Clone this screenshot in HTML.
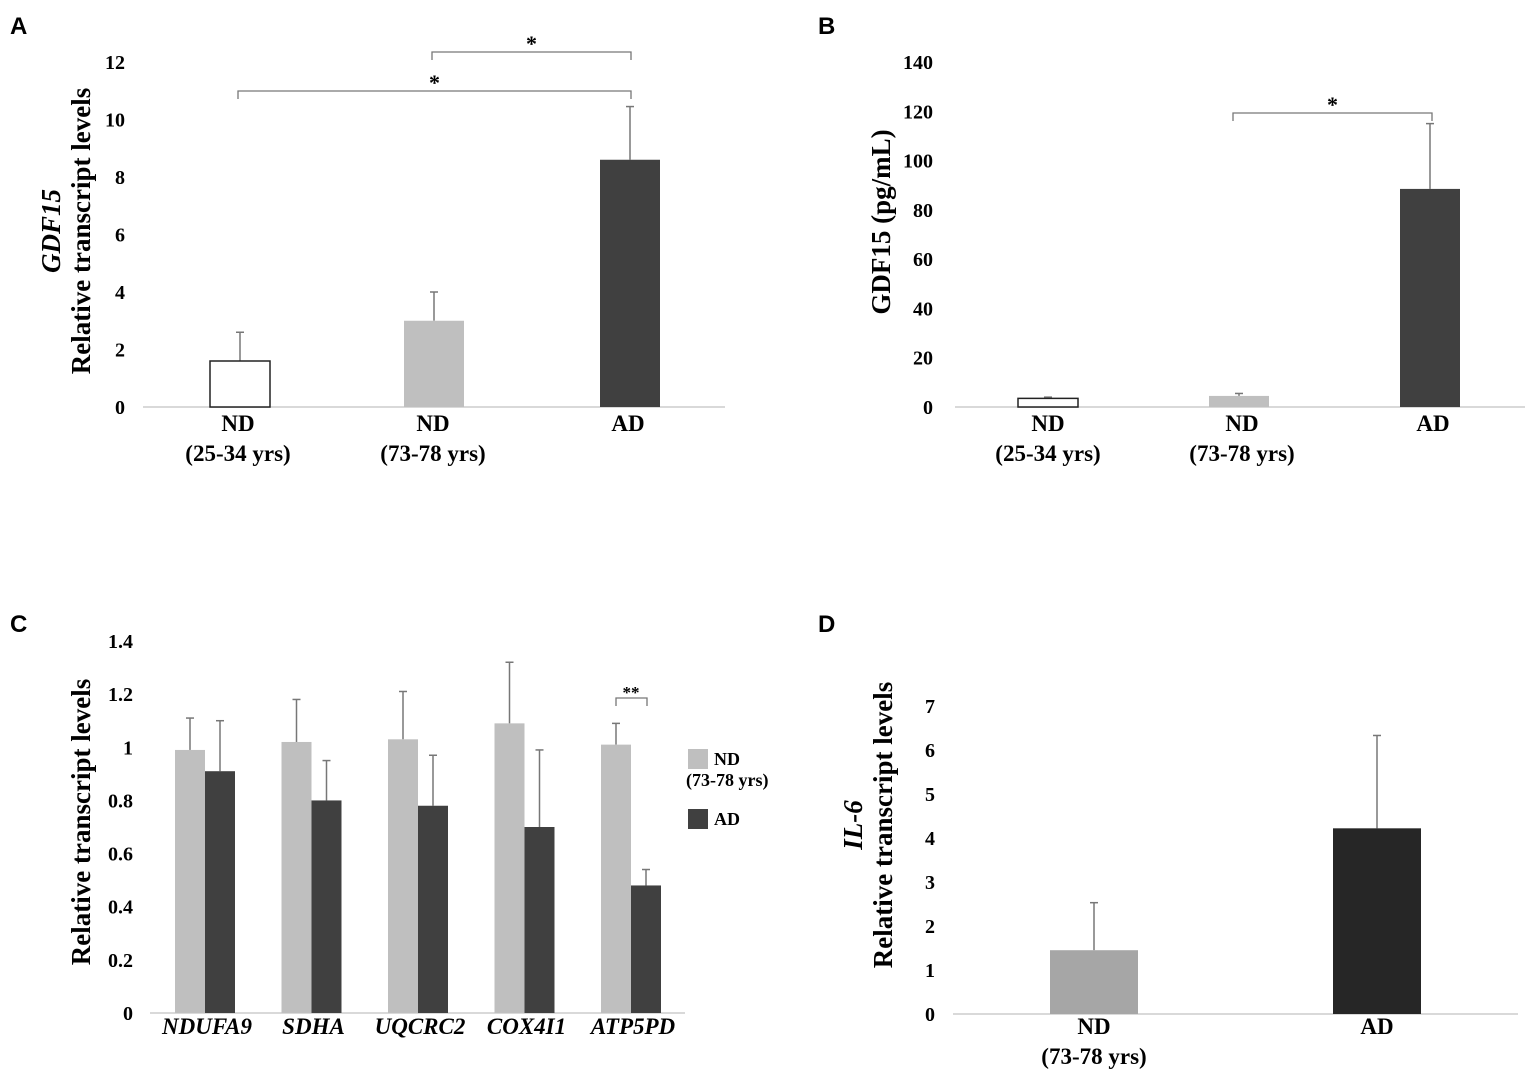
<!DOCTYPE html>
<html><head><meta charset="utf-8"><style>
body{margin:0;background:#fff;}
svg{display:block;font-family:"Liberation Serif",serif;}
.pl{font-family:"Liberation Sans",sans-serif;font-weight:bold;font-size:24px;}
.tk{font-size:20px;font-weight:bold;}
.cat{font-size:23px;font-weight:bold;}
.yt{font-size:27px;font-weight:bold;}
</style></head><body>
<svg id="s" width="1535" height="1073">
<text class="pl" x="10" y="34">A</text>
<text class="pl" x="818" y="34">B</text>
<text class="pl" x="10" y="632">C</text>
<text class="pl" x="818" y="632">D</text>
</svg>
<script>
// Panel A
const aCats=[["ND","(25-34 yrs)"],["ND","(73-78 yrs)"],["AD",""]];
const aVals=[1.6,3.0,8.6];
const aErr=[2.6,4.0,10.45];
const aTicks=[0,2,4,6,8,10,12];
// Panel B
const bCats=[["ND","(25-34 yrs)"],["ND","(73-78 yrs)"],["AD",""]];
const bVals=[3.5,4.5,88.5];
const bErr=[4,5.5,115];
const bTicks=[0,20,40,60,80,100,120,140];
// Panel C
const cGenes=["NDUFA9","SDHA","UQCRC2","COX4I1","ATP5PD"];
const cND=[0.99,1.02,1.03,1.09,1.01];
const cNDErr=[1.11,1.18,1.21,1.32,1.09];
const cAD=[0.91,0.80,0.78,0.70,0.48];
const cADErr=[1.10,0.95,0.97,0.99,0.54];
const cTicks=[0,0.2,0.4,0.6,0.8,1,1.2,1.4];
// Panel D
const dCats=[["ND","(73-78 yrs)"],["AD",""]];
const dVals=[1.45,4.22];
const dErr=[2.53,6.33];
const dTicks=[0,1,2,3,4,5,6,7];

const svg=document.getElementById('s');
const NS='http://www.w3.org/2000/svg';
function mk(tag,attrs,name,txt){const e=document.createElementNS(NS,tag);for(const k in attrs)e.setAttribute(k,attrs[k]);


if(txt!==undefined)e.textContent=txt;svg.appendChild(e);return e;}
function scale(y0,yTop,max){return v=>y0-(y0-yTop)*v/max;}
function axis(p,y,ticks,x0,x1,tx){
  mk('line',{x1:x0,x2:x1,y1:y(0),y2:y(0),stroke:'#d9d9d9','stroke-width':2},p+'-x-axis');
  ticks.forEach(t=>mk('text',{x:tx,y:y(t)+7,'text-anchor':'end',class:'tk'},p+'-y-tick',String(t)));
}
function errbar(p,x,y0,y1){
  mk('line',{x1:x,x2:x,y1:y0,y2:y1,stroke:'#777','stroke-width':1.5},p+'-error-bar');
  mk('line',{x1:x-4,x2:x+4,y1:y1,y2:y1,stroke:'#777','stroke-width':1.5},p+'-error-cap');
}
function catLabel(p,x,y,c){
  mk('text',{x:x,y:y,'text-anchor':'middle',class:'cat'},p+'-x-label',c[0]);
  if(c[1])mk('text',{x:x,y:y+30,'text-anchor':'middle',class:'cat'},p+'-x-label',c[1]);
}
function bracket(p,x0,x1,y,ya,yb){
  mk('path',{d:`M${x0} ${ya}V${y}H${x1}V${yb}`,fill:'none',stroke:'#777','stroke-width':1.3},p+'-significance-bracket');
  mk('text',{x:(x0+x1)/2,y:y-1,'text-anchor':'middle','font-size':22,'font-weight':'bold'},p+'-significance-star','*');
}
// A
(function(){
  const y=scale(407,62,12);
  axis('a',y,aTicks,143,725,125);
  const cx=[240,434,630],fills=['#fff','#bfbfbf','#404040'];
  aVals.forEach((v,i)=>{
    errbar('a',cx[i],y(v),y(aErr[i]));
    mk('rect',{x:cx[i]-30,y:y(v),width:60,height:y(0)-y(v),fill:fills[i],stroke:i==0?'#222':'none','stroke-width':1.5},'a-bar-'+i);
    catLabel('a',[238,433,628][i],431,aCats[i]);
  });
  bracket('a',432,631,52,60,60);
  bracket('a',238,631,91,99,99);
  const t=mk('text',{transform:'translate(60,231) rotate(-90)','text-anchor':'middle',class:'yt'},'a-y-axis-title');
  t.innerHTML='<tspan x="0" y="0" font-style="italic">GDF15</tspan><tspan x="0" y="30">Relative transcript levels</tspan>';
})();
// B
(function(){
  const y=scale(407,62,140);
  axis('b',y,bTicks,955,1525,933);
  const cx=[1048,1239,1430],fills=['#fff','#bfbfbf','#404040'];
  bVals.forEach((v,i)=>{
    errbar('b',cx[i],y(v),y(bErr[i]));
    mk('rect',{x:cx[i]-30,y:y(v),width:60,height:y(0)-y(v),fill:fills[i],stroke:i==0?'#222':'none','stroke-width':1.5},'b-bar-'+i);
    catLabel('b',[1048,1242,1433][i],431,bCats[i]);
  });
  bracket('b',1233,1432,113,121,121);
  mk('text',{transform:'translate(890,222) rotate(-90)','text-anchor':'middle',class:'yt'},'b-y-axis-title','GDF15 (pg/mL)');
})();
// C
(function(){
  const y=scale(1013,641,1.4);
  axis('c',y,cTicks,150,685,133);
  cGenes.forEach((g,i)=>{
    const cx=205+i*106.5;
    errbar('c',cx-15,y(cND[i]),y(cNDErr[i]));
    mk('rect',{x:cx-30,y:y(cND[i]),width:30,height:y(0)-y(cND[i]),fill:'#bfbfbf'},'c-bar-nd-'+g);
    errbar('c',cx+15,y(cAD[i]),y(cADErr[i]));
    mk('rect',{x:cx,y:y(cAD[i]),width:30,height:y(0)-y(cAD[i]),fill:'#404040'},'c-bar-ad-'+g);
    mk('text',{x:cx+2,y:1034,'text-anchor':'middle',class:'cat','font-style':'italic','font-size':21},'c-x-label',g);
  });
  mk('path',{d:'M616 706V698H647V706',fill:'none',stroke:'#777','stroke-width':1.3},'c-significance-bracket');
  mk('text',{x:631,y:698,'text-anchor':'middle','font-size':17,'font-weight':'bold'},'c-significance-star','**');
  mk('rect',{x:688,y:749,width:20,height:20,fill:'#bfbfbf'},'c-legend-nd-swatch');
  mk('text',{x:714,y:765,'font-size':18,'font-weight':'bold'},'c-legend-nd','ND');
  mk('text',{x:686,y:786,'font-size':18,'font-weight':'bold'},'c-legend-nd','(73-78 yrs)');
  mk('rect',{x:688,y:809,width:20,height:20,fill:'#404040'},'c-legend-ad-swatch');
  mk('text',{x:714,y:825,'font-size':18,'font-weight':'bold'},'c-legend-ad','AD');
  mk('text',{transform:'translate(90,822) rotate(-90)','text-anchor':'middle',class:'yt'},'c-y-axis-title','Relative transcript levels');
})();
// D
(function(){
  const y=scale(1014,706,7);
  axis('d',y,dTicks,953,1518,935);
  const cx=[1094,1377],fills=['#a6a6a6','#262626'];
  dVals.forEach((v,i)=>{
    errbar('d',cx[i],y(v),y(dErr[i]));
    mk('rect',{x:cx[i]-44,y:y(v),width:88,height:y(0)-y(v),fill:fills[i]},'d-bar-'+i);
    catLabel('d',cx[i],1034,dCats[i]);
  });
  const t=mk('text',{transform:'translate(862,825) rotate(-90)','text-anchor':'middle',class:'yt'},'d-y-axis-title');
  t.innerHTML='<tspan x="0" y="0" font-style="italic">IL-6</tspan><tspan x="0" y="30">Relative transcript levels</tspan>';
})();
</script>
</body></html>
